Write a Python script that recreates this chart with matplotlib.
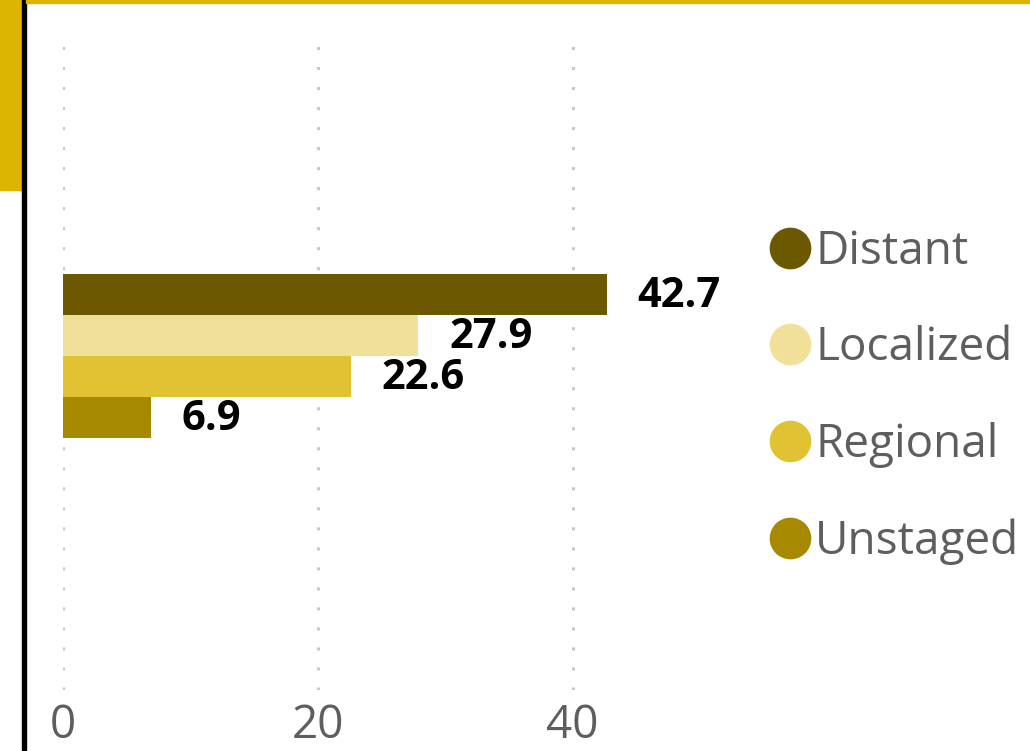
import matplotlib
matplotlib.use('Agg')
import matplotlib.pyplot as plt
from matplotlib.lines import Line2D
from matplotlib.patches import Rectangle

# Data
stages = ['Distant', 'Localized', 'Regional', 'Unstaged']
values = [42.7, 27.9, 22.6, 6.9]
colors = ['#6B5800', '#F0E09A', '#E0C232', '#A68900']
x_ticks = [0, 20, 40]

plt.rcParams['font.family'] = ['Open Sans', 'DejaVu Sans']

fig = plt.figure(figsize=(10.30, 7.51), dpi=100)
W, H = 1030, 751

# Decoration: gold tab, black rule, gold top line
fig.patches.append(Rectangle((0, 1 - 190 / H), 22 / W, 190 / H, transform=fig.transFigure,
                             color='#DDB400', zorder=0))
fig.patches.append(Rectangle((22 / W, 0), 4 / W, 1, transform=fig.transFigure,
                             color='black', zorder=0))
fig.patches.append(Rectangle((26 / W, 1 - 3 / H), 1 - 26 / W, 3 / H, transform=fig.transFigure,
                             color='#DDB400', zorder=0))

# Axes: 0 at x=63px, 50 at x=700px; y from 40px to 690px
ax = fig.add_axes([63 / W, 1 - 690 / H, (700 - 63) / W, 650 / H])
ypos = list(range(len(stages)))
ax.barh(ypos, values, height=1.0, color=colors, zorder=2)
ax.set_xlim(0, 50)
ax.set_ylim(9.64, -6.21)

for y, v in zip(ypos, values):
    ax.text(v + 2.4, y + 0.05, f'{v}', va='center', ha='left', fontsize=30,
            fontweight='bold', color='black')

ax.set_xticks(x_ticks)
ax.set_xticklabels([str(t) for t in x_ticks])
ax.set_yticks([])
ax.tick_params(axis='x', length=0, pad=9, labelsize=33, labelcolor='#605E5C')
for s in ax.spines.values():
    s.set_visible(False)
ax.grid(axis='x', color='#C8C8C8', linestyle=(0, (1, 5.55)), linewidth=2.2, zorder=0)
ax.set_axisbelow(True)

handles = [Line2D([0], [0], marker='o', linestyle='', markersize=29, markerfacecolor=c,
                  markeredgecolor=c) for c in colors]
leg = fig.legend(handles, stages, loc='upper left', bbox_to_anchor=(767 / W, 1 - 229 / H),
                 frameon=False, fontsize=33, labelspacing=1.1, handletextpad=0.05,
                 handlelength=1.0, borderpad=0, borderaxespad=0)
for t in leg.get_texts():
    t.set_color('#605E5C')

fig.savefig('out.png', dpi=100)
